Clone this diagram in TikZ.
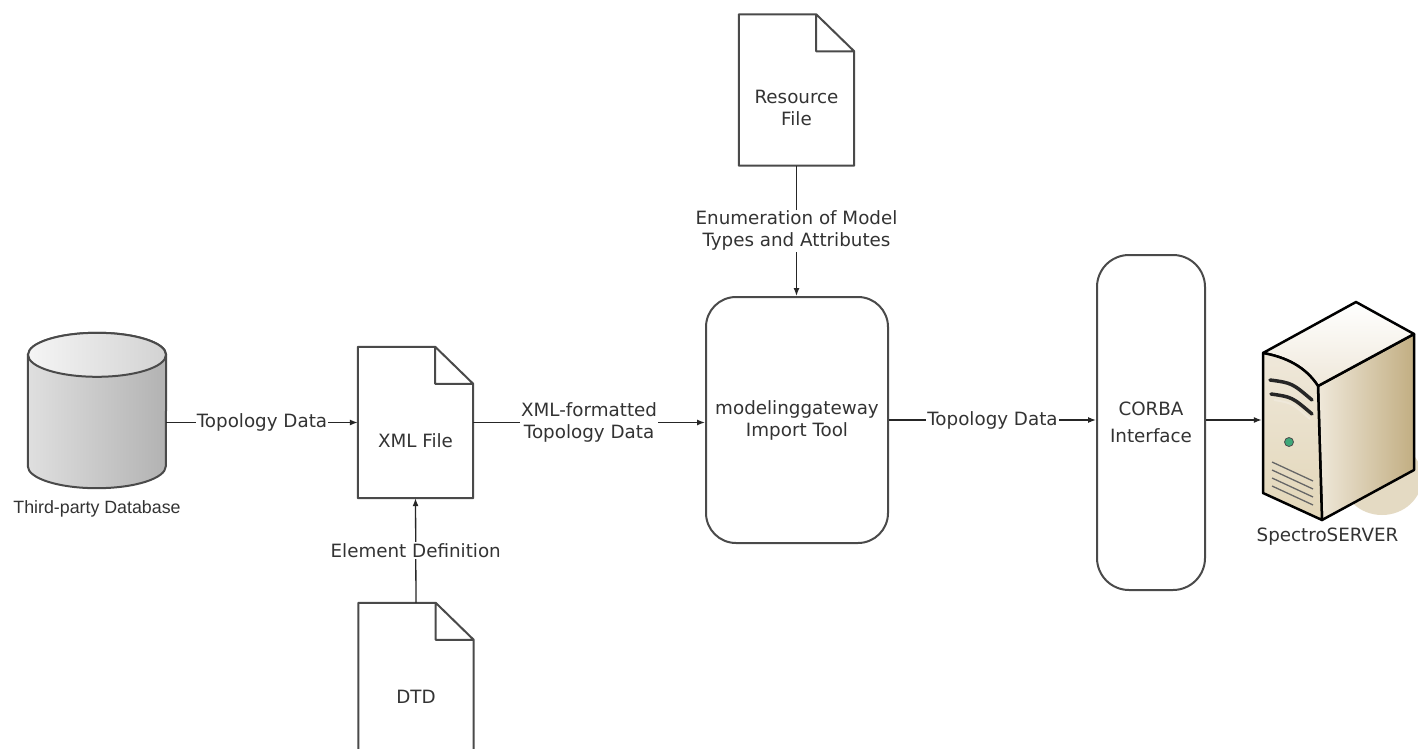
\documentclass[tikz,border=0pt]{standalone}
\usepackage{fontspec}
\setmainfont{DejaVu Sans}
\newfontfamily\dbfont{Liberation Sans}
\usetikzlibrary{arrows.meta, positioning}

\definecolor{boxline}{HTML}{4A4A4A}
\definecolor{srvtop}{HTML}{EFE8DA}
\definecolor{srvfront}{HTML}{E2D6B8}
\definecolor{srvside}{HTML}{C2AE82}
\definecolor{srvshadow}{HTML}{E4DAC3}
\definecolor{ledgreen}{HTML}{3FA87A}

\tikzset{
  every node/.style={font=\fontsize{18.3}{22}\selectfont, text=black!80},
  flow/.style={draw=black!85, line width=1.3pt, -{Latex[length=8pt,width=6pt]}},
  flowlabel/.style={fill=white, inner sep=1pt, align=center},
  docfile/.style={minimum width=115pt, minimum height=151pt, inner sep=0pt},
  doctext/.style={align=center, yshift=-18pt},
  toolbox/.style={draw=boxline, line width=2pt, rounded corners=#1, align=center},
  toolbox/.default=30pt,
  srvedge/.style={draw=black, line width=2.5pt, line join=round},
}

\begin{document}
\begin{tikzpicture}[x=1pt, y=1pt]
  % Canvas
  \path[use as bounding box, fill=white] (0,0) rectangle (1418,-749);
  \clip (0,0) rectangle (1418,-749);

  % Nodes
  \node[minimum width=138pt, minimum height=155pt,
        label={[font=\dbfont\fontsize{17.8}{21}\selectfont, yshift=-9pt]below:Third-party Database}] (db) at (97,-410.5) {};
  \node[docfile, label={[doctext]center:XML File}] (xml) at (415.5,-422.5) {};
  \node[docfile, label={[doctext]center:DTD}] (dtd) at (416,-678.5) {};
  \node[docfile, label={[doctext]center:Resource\\File}] (res) at (796.5,-90) {};
  \node[toolbox=30pt, minimum width=182pt, minimum height=246pt] (tool) at (797,-420) {modelinggateway\\Import Tool};
  \node[toolbox=32pt, minimum width=108pt, minimum height=335pt,
        font=\fontsize{18.3}{27}\selectfont] (corba) at (1151,-422.5) {CORBA\\Interface};
  \node[minimum width=153pt, minimum height=218pt,
        label={[xshift=-11pt, yshift=-4pt]below:SpectroSERVER}] (server) at (1338.5,-411) {};

  % Database cylinder
  \draw[boxline, line width=2pt, left color=gray!25, middle color=gray!6, right color=gray!60]
    ([yshift=-22pt]db.north west) -- ([yshift=22pt]db.south west)
    arc[start angle=180, end angle=360, x radius=69pt, y radius=22pt]
    -- ([yshift=-22pt]db.north east)
    arc[start angle=0, end angle=180, x radius=69pt, y radius=22pt] -- cycle;
  \draw[boxline, line width=2pt, left color=gray!8, right color=gray!35]
    ([yshift=-22pt]db.north) ellipse [x radius=69pt, y radius=22pt];

  % Files with a folded corner
  \foreach \f in {xml,dtd,res}
    \draw[boxline, line width=2pt, line join=round]
      (\f.north west) -- ([xshift=-38pt]\f.north east) -- ([yshift=-37pt]\f.north east)
      -- (\f.south east) -- (\f.south west) -- cycle
      ([xshift=-38pt]\f.north east) |- ([yshift=-37pt]\f.north east);

  % Server tower
  \fill[srvshadow] (1382,-478) ellipse [x radius=40pt, y radius=37pt];
  \draw[srvedge, left color=srvtop, right color=srvside]
    (1318,-386) -- (1414,-334) -- (1414,-470) -- (1322,-520) -- cycle;
  \draw[srvedge, top color=white, bottom color=srvtop]
    (1263,-353) -- (1356,-302) -- (1414,-334) -- (1318,-386)
    .. controls (1305,-366) and (1285,-357) .. (1263,-353);
  \draw[srvedge, top color=srvtop, bottom color=srvfront]
    (1263,-353) .. controls (1285,-357) and (1305,-366) .. (1318,-386)
    -- (1322,-520) -- (1263,-493) -- cycle;
  \draw[black!85, line width=3.5pt, line cap=round] (1270,-380) .. controls (1292,-383) .. (1312,-400);
  \draw[black!85, line width=3.5pt, line cap=round] (1271,-394) .. controls (1292,-397) .. (1312,-414);
  \draw[srvtop, line width=2pt] (1274,-400) .. controls (1292,-403) .. (1310,-419);
  \draw[black!70, fill=ledgreen, line width=0.8pt] (1289,-442) circle[radius=4.5pt];
  \foreach \v in {0,...,3}
    \draw[black!60, line width=1.3pt] (1272,{-462-8*\v}) -- (1313,{-481-8*\v});

  % Connectors
  \draw[flow] (db.east |- xml.west) -- node[flowlabel] {Topology Data} (xml.west);
  \draw[flow] (dtd.north) -- node[flowlabel] {Element Definition} (xml.south);
  \draw[flow] (xml.east) -- node[flowlabel] {XML-formatted\\Topology Data} (xml.east -| tool.west);
  \draw[flow] (res.south) -- node[flowlabel] {Enumeration of Model\\Types and Attributes} (res.south |- tool.north);
  \draw[flow] (tool.east) -- node[flowlabel] {Topology Data} (tool.east -| corba.west);
  \draw[flow] (corba.east |- tool.east) -- (tool.east -| server.west);
\end{tikzpicture}
\end{document}
